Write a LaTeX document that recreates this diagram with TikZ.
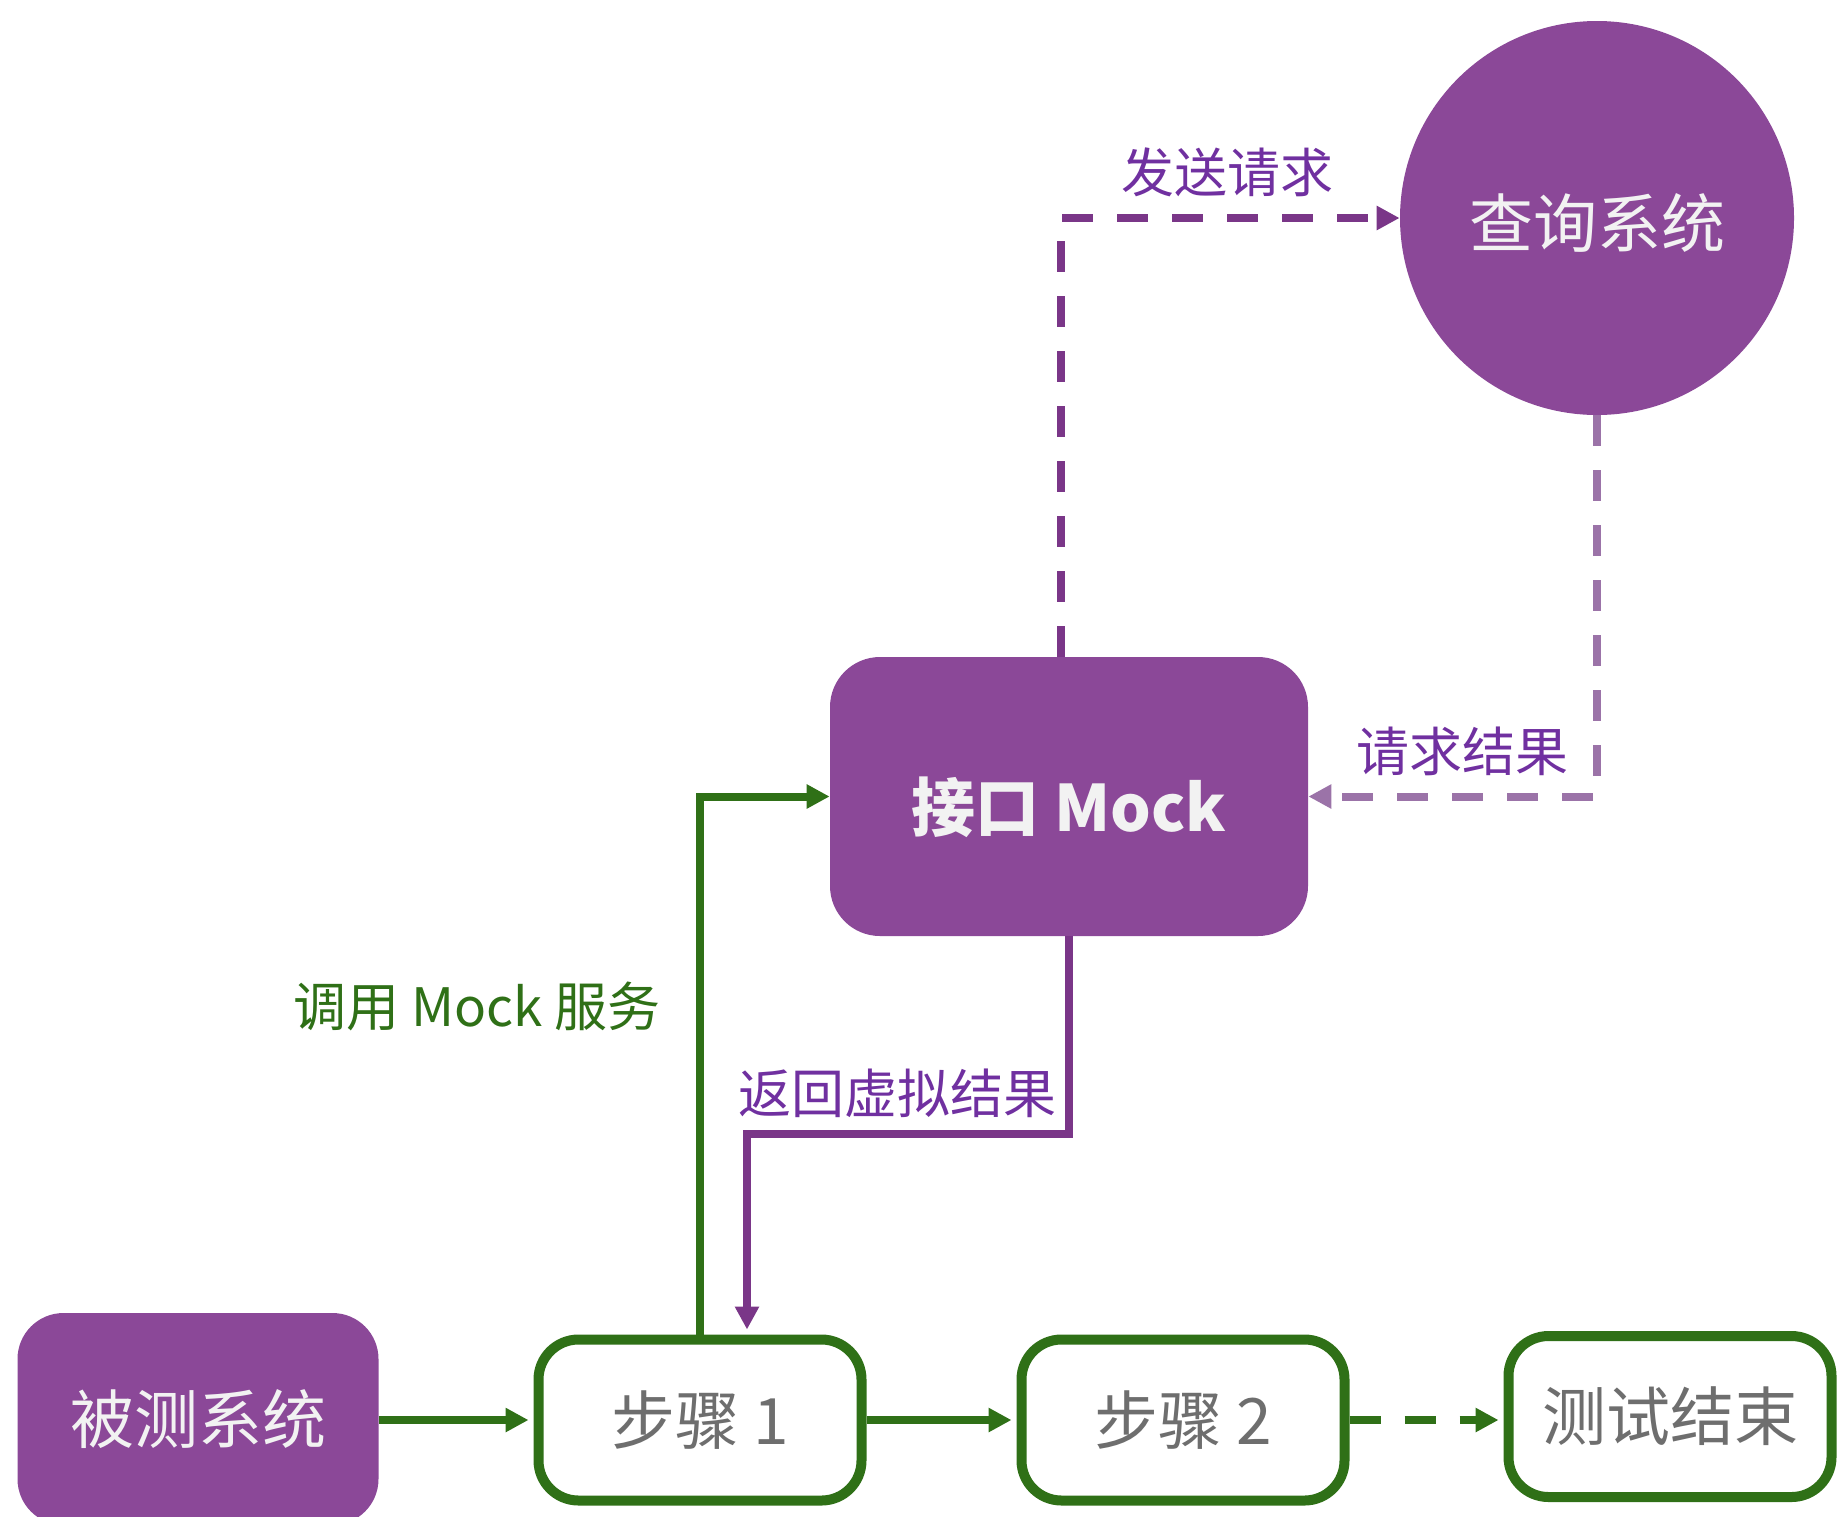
\documentclass[tikz,border=0pt]{standalone}
\usepackage{fontspec}
\setmainfont{Noto Sans CJK SC}
\usetikzlibrary{arrows.meta}
\definecolor{pfill}{RGB}{139,72,152}
\definecolor{pline}{RGB}{122,54,136}
\definecolor{plabel}{RGB}{112,48,160}
\definecolor{plight}{RGB}{155,115,168}
\definecolor{gline}{RGB}{47,112,23}
\definecolor{ltext}{RGB}{242,242,242}
\definecolor{gtext}{RGB}{110,110,110}
\tikzset{
  pbox/.style={fill=pfill, draw=none, text=ltext, font=\fontsize{32pt}{36pt}\selectfont},
  stepbox/.style={draw=gline, line width=5pt, fill=white, rounded corners=20pt,
    minimum width=161.5pt, minimum height=80.5pt, text=gtext, font=\fontsize{32pt}{36pt}\selectfont, inner sep=0pt},
  lbl/.style={font=\fontsize{26.5pt}{30pt}\selectfont, inner sep=0pt},
  tip/.style={-{Triangle[length=11.5pt,width=11.5pt]}},
  garrow/.style={draw=gline, line width=4pt, tip},
  parrow/.style={draw=pline, line width=4pt, tip},
  dashpat/.style={dash pattern=on 15.5pt off 12pt},
}
\begin{document}
\begin{tikzpicture}[x=0.5pt,y=-0.5pt]
\useasboundingbox (0,0) rectangle (1839,1516);
\clip (0,0) rectangle (1839,1516);
% nodes
\node[pbox, rounded corners=23pt, minimum width=180.5pt, minimum height=106pt] (sut) at (198,1419) {被测系统};
\node[stepbox] (s1) at (700,1420) {步骤 1};
\node[stepbox] (s2) at (1183,1420) {步骤 2};
\node[stepbox] (fin) at (1670,1416.5) {测试结束};
\node[pbox, rounded corners=25pt, minimum width=239pt, minimum height=139.5pt,
  font=\fontsize{32pt}{36pt}\selectfont\bfseries, text height=39pt, text depth=3.8pt] (mock) at (1069,796.5) {接口 Mock};
\node[pbox, circle, minimum size=197pt, inner sep=0pt, text height=33pt, text depth=3.8pt] (query) at (1597,218) {查询系统};
% coordinates
\coordinate (sendc) at (1061,216);
\coordinate (retc) at (747,1134);
% connectors
\draw[garrow, shorten >=2.5pt] (s1.west -| sut.east) -- (s1.west);
\draw[garrow, shorten >=2.5pt] (s1.east) -- (s2.west);
\draw[garrow, dashpat, shorten >=2.5pt] (s2.east) -- (s2.east -| fin.west);
\draw[garrow] (s1.north) |- (mock.west);
\draw[parrow, shorten >=2.5pt] (mock.south) |- (retc) -- (retc |- s1.north);
\draw[parrow, dashpat] (sendc |- mock.north) |- (query.west);
\draw[parrow, draw=plight, dashpat] (query.south) |- (mock.east);
% labels
\node[lbl, text=plabel] (l1) at (1227,172) {发送请求};
\node[lbl, text=plabel] (l2) at (1462,751) {请求结果};
\node[lbl, text=gline] (l3) at (477,1006) {调用 Mock 服务};
\node[lbl, text=plabel] (l4) at (897,1093) {返回虚拟结果};
\end{tikzpicture}
\end{document}
